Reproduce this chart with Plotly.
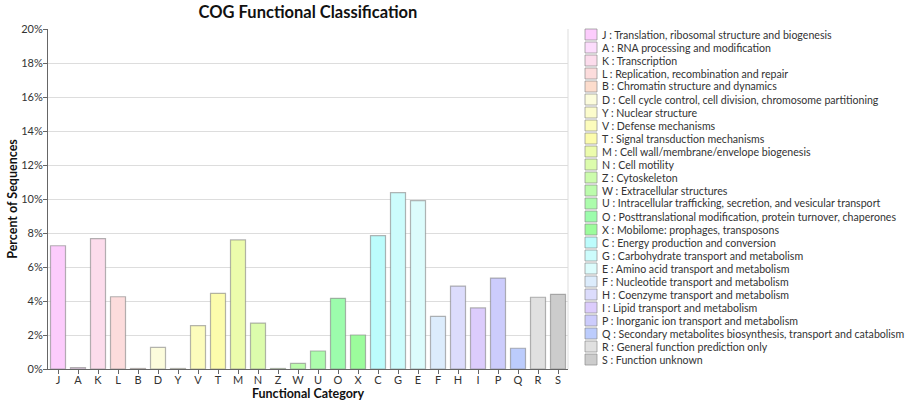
import plotly.graph_objects as go

categories = ["J","A","K","L","B","D","Y","V","T","M","N","Z","W","U","O","X","C","G","E","F","H","I","P","Q","R","S"]
descriptions = [
    "Translation, ribosomal structure and biogenesis",
    "RNA processing and modification",
    "Transcription",
    "Replication, recombination and repair",
    "Chromatin structure and dynamics",
    "Cell cycle control, cell division, chromosome partitioning",
    "Nuclear structure",
    "Defense mechanisms",
    "Signal transduction mechanisms",
    "Cell wall/membrane/envelope biogenesis",
    "Cell motility",
    "Cytoskeleton",
    "Extracellular structures",
    "Intracellular trafficking, secretion, and vesicular transport",
    "Posttranslational modification, protein turnover, chaperones",
    "Mobilome: prophages, transposons",
    "Energy production and conversion",
    "Carbohydrate transport and metabolism",
    "Amino acid transport and metabolism",
    "Nucleotide transport and metabolism",
    "Coenzyme transport and metabolism",
    "Lipid transport and metabolism",
    "Inorganic ion transport and metabolism",
    "Secondary metabolites biosynthesis, transport and catabolism",
    "General function prediction only",
    "Function unknown",
]
percent = [7.25, 0.08, 7.67, 4.25, 0.03, 1.27, 0.03, 2.55, 4.45, 7.59, 2.70, 0.03, 0.33, 1.06,
           4.16, 2.00, 7.84, 10.37, 9.90, 3.10, 4.88, 3.59, 5.35, 1.22, 4.22, 4.39]
colors = ["#FCCCFC","#FCDCFC","#FCDCEC","#FCDCDC","#FCDCCC","#FCFCDC","#FCFCCC","#FCFCBC",
          "#FCFCAC","#ECFCAC","#DCFCAC","#CCFCAC","#BCFCAC","#ACFCAC","#9CFCAC","#9CFC9C",
          "#BCFCFC","#CCFCFC","#DCFCFC","#DCECFC","#DCDCFC","#DCCCFC","#CCCCFC","#BCCCFC",
          "#E0E0E0","#CCCCCC"]

FONT = "Lato"
W, H = 912, 401
ML, MR, MT, MB = 48, 344, 29, 32
PW = W - ML - MR
PH = H - MT - MB

fig = go.Figure()
fig.add_trace(go.Bar(
    x=categories, y=percent,
    marker=dict(color=colors, line=dict(color="rgba(130,130,130,0.6)", width=1.2)),
    width=0.75, showlegend=False,
))

def px2x(px):
    return (px - ML) / PW

def py2y(py):
    return (H - MB - py) / PH

shapes = []
annotations = []
for i, (c, d, col) in enumerate(zip(categories, descriptions, colors)):
    cy = 34.5 + 13.0 * i
    shapes.append(dict(type="rect", xref="paper", yref="paper",
                       x0=px2x(585), x1=px2x(597), y0=py2y(cy + 5.5), y1=py2y(cy - 5.5),
                       fillcolor=col, line=dict(color="rgba(140,140,140,0.7)", width=1)))
    annotations.append(dict(xref="paper", yref="paper", x=px2x(600), y=py2y(cy),
                            xanchor="left", yanchor="middle", showarrow=False,
                            text=f"{c} : {d}", font=dict(family=FONT, size=10.6, color="#333")))

shapes.append(dict(type="line", xref="paper", yref="paper", x0=1, x1=1, y0=0, y1=1,
                   line=dict(color="#dddddd", width=1)))

fig.update_layout(
    width=W, height=H,
    margin=dict(l=ML, r=MR, t=MT, b=MB, autoexpand=False),
    paper_bgcolor="white", plot_bgcolor="white",
    font=dict(family=FONT, size=11, color="#333"),
    title=dict(text="<b>COG Functional Classification</b>", x=308 / W,
               xanchor="center", y=1 - 12 / H, yanchor="middle",
               font=dict(family=FONT, size=16.5, color="#111")),
    xaxis=dict(title=dict(text="<b>Functional Category</b>", font=dict(size=12.5, color="#111"), standoff=0),
               automargin=False, ticklabelstandoff=-3,
               showline=True, linecolor="#666", linewidth=1, ticks="outside", ticklen=4,
               tickcolor="#666", showgrid=False, tickfont=dict(size=11, color="#333")),
    yaxis=dict(title=dict(text="<b>Percent of Sequences</b>", font=dict(size=12.5, color="#111"), standoff=0),
               automargin=False, ticklabelstandoff=-2,
               range=[0, 20], dtick=2, ticksuffix="%", showline=True, linecolor="#666", linewidth=1,
               ticks="outside", ticklen=4, tickcolor="#666", gridcolor="#dddddd", zeroline=False,
               tickfont=dict(size=11, color="#333")),
    shapes=shapes, annotations=annotations,
)

fig.write_html("out.html", config={"displayModeBar": False},
               post_script="document.body.style.margin='0';")
